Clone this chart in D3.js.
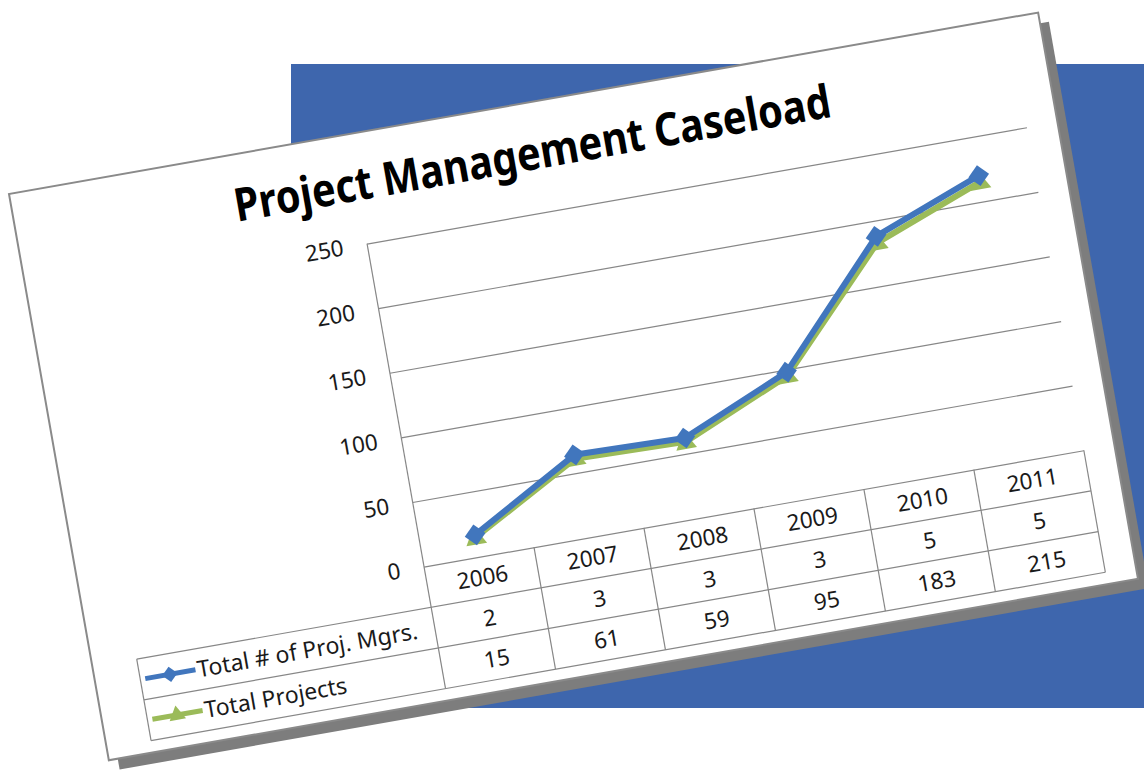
<!DOCTYPE html>
<html>
<head>
<meta charset="utf-8">
<script src="https://cdn.jsdelivr.net/npm/d3@7"></script>
<style>
  body { margin: 0; background: #fff; }
  svg { display: block; }
  text { font-family: "Noto Sans", "Open Sans", sans-serif; fill: #1a1a1a; }
</style>
</head>
<body>
<script>
// data
const years = ["2006", "2007", "2008", "2009", "2010", "2011"];
const projMgrs = [2, 3, 3, 3, 5, 5];
const totalProjects = [15, 61, 59, 95, 183, 215];
const yTicks = [0, 50, 100, 150, 200, 250];
const seriesNames = ["Total # of Proj. Mgrs.", "Total Projects"];
const chartTitle = "Project Management Caseload";

const width = 1144, height = 771;
const cardW = 1045, cardH = 575;
const plotL = 344, plotR = 1014, plotT = 111, plotB = 439;
const rowH = 41.3;
const legendL = 45;
const blue = "#4176bd", green = "#9bbb59", gridCol = "#878787";

const svg = d3.select("body").append("svg")
  .attr("width", width)
  .attr("height", height);

// blue block behind the card
svg.append("rect")
  .attr("x", 291).attr("y", 64)
  .attr("width", width - 291).attr("height", 644)
  .attr("fill", "#3e66ad");

// the tilted card
const card = svg.append("g").attr("transform", "translate(9,194) rotate(-10)");

card.append("rect")
  .attr("x", 9).attr("y", 11)
  .attr("width", cardW).attr("height", cardH)
  .attr("fill", "#7d7d7d");

card.append("rect")
  .attr("width", cardW).attr("height", cardH)
  .attr("fill", "#fff")
  .attr("stroke", "#8a8a8a")
  .attr("stroke-width", 2);

card.append("text")
  .attr("x", cardW / 2).attr("y", 67)
  .attr("text-anchor", "middle")
  .attr("font-size", 46)
  .attr("font-weight", "bold")
  .attr("textLength", 605)
  .attr("lengthAdjust", "spacingAndGlyphs")
  .style("fill", "#000")
  .text(chartTitle);

// scales
const x = d3.scaleBand().domain(years).range([plotL, plotR]);
const y = d3.scaleLinear().domain([0, 250]).range([plotB, plotT]);

// gridlines + tick labels
const yAxis = card.append("g")
  .attr("transform", `translate(${plotL},0)`)
  .call(d3.axisLeft(y).tickValues(yTicks).tickSize(-(plotR - plotL)).tickPadding(24));
yAxis.select(".domain").remove();
yAxis.selectAll(".tick line").attr("stroke", gridCol).attr("stroke-width", 1.2);
yAxis.selectAll(".tick text")
  .attr("font-size", 22.5)
  .attr("font-family", "Noto Sans, sans-serif")
  .attr("fill", "#1a1a1a");

// vertical axis line running down through the table
card.append("line")
  .attr("x1", plotL).attr("x2", plotL)
  .attr("y1", plotT).attr("y2", plotB + rowH * 3)
  .attr("stroke", gridCol).attr("stroke-width", 1.2);

// data table lines
const table = card.append("g").attr("stroke", gridCol).attr("stroke-width", 1.2);
[1, 2, 3].forEach(r => {
  table.append("line")
    .attr("x1", legendL).attr("x2", plotR)
    .attr("y1", plotB + rowH * r).attr("y2", plotB + rowH * r);
});
table.append("line")
  .attr("x1", legendL).attr("x2", legendL)
  .attr("y1", plotB + rowH).attr("y2", plotB + rowH * 3);
table.selectAll(".col")
  .data(years.slice(1).concat(["end"]))
  .enter().append("line")
  .attr("x1", (d, i) => plotL + x.step() * (i + 1))
  .attr("x2", (d, i) => plotL + x.step() * (i + 1))
  .attr("y1", plotB).attr("y2", plotB + rowH * 3);

// table text
const cx = d => x(d) + x.bandwidth() / 2;
card.selectAll(".yr")
  .data(years).enter().append("text")
  .attr("x", cx).attr("y", plotB + rowH * 0.5)
  .attr("dy", "0.35em").attr("text-anchor", "middle").attr("font-size", 22.5)
  .text(d => d);
card.selectAll(".mg")
  .data(years).enter().append("text")
  .attr("x", cx).attr("y", plotB + rowH * 1.5)
  .attr("dy", "0.35em").attr("text-anchor", "middle").attr("font-size", 22.5)
  .text((d, i) => projMgrs[i]);
card.selectAll(".tp")
  .data(years).enter().append("text")
  .attr("x", cx).attr("y", plotB + rowH * 2.5)
  .attr("dy", "0.35em").attr("text-anchor", "middle").attr("font-size", 22.5)
  .text((d, i) => totalProjects[i]);

// stacked lines
const rows = years.map((yr, i) => ({ year: yr, projects: totalProjects[i], mgrs: projMgrs[i] }));
const stacked = d3.stack().keys(["projects", "mgrs"])(rows);

const line = d3.line()
  .x(d => cx(d.data.year))
  .y(d => y(d[1]));

const diamond = d3.symbol().type(d3.symbolSquare).size(220);
const triangle = d3.symbol().type(d3.symbolTriangle).size(190);

// green: Total Projects
card.append("path")
  .datum(stacked[0])
  .attr("d", line)
  .attr("fill", "none").attr("stroke", green).attr("stroke-width", 6)
  .attr("stroke-linejoin", "round");
card.selectAll(".tri")
  .data(stacked[0]).enter().append("path")
  .attr("transform", d => `translate(${cx(d.data.year)},${y(d[1]) + 1})`)
  .attr("d", triangle)
  .attr("fill", green);

// blue: Total # of Proj. Mgrs.
card.append("path")
  .datum(stacked[1])
  .attr("d", line)
  .attr("fill", "none").attr("stroke", blue).attr("stroke-width", 6)
  .attr("stroke-linejoin", "round");
card.selectAll(".dia")
  .data(stacked[1]).enter().append("path")
  .attr("transform", d => `translate(${cx(d.data.year)},${y(d[1])}) rotate(45)`)
  .attr("d", diamond)
  .attr("fill", blue);

// legend keys in the table
const keys = [
  { name: seriesNames[0], color: blue, sym: diamond, rot: 45 },
  { name: seriesNames[1], color: green, sym: triangle, rot: 0 }
];
keys.forEach((k, i) => {
  const cy = plotB + rowH * (1.5 + i);
  card.append("line")
    .attr("x1", 50).attr("x2", 101).attr("y1", cy).attr("y2", cy)
    .attr("stroke", k.color).attr("stroke-width", 5);
  card.append("path")
    .attr("transform", `translate(75,${cy}) rotate(${k.rot})`)
    .attr("d", k.sym.size(120)())
    .attr("fill", k.color);
  card.append("text")
    .attr("x", 103).attr("y", cy)
    .attr("dy", "0.35em").attr("font-size", 23)
    .text(k.name);
});
</script>
</body>
</html>
